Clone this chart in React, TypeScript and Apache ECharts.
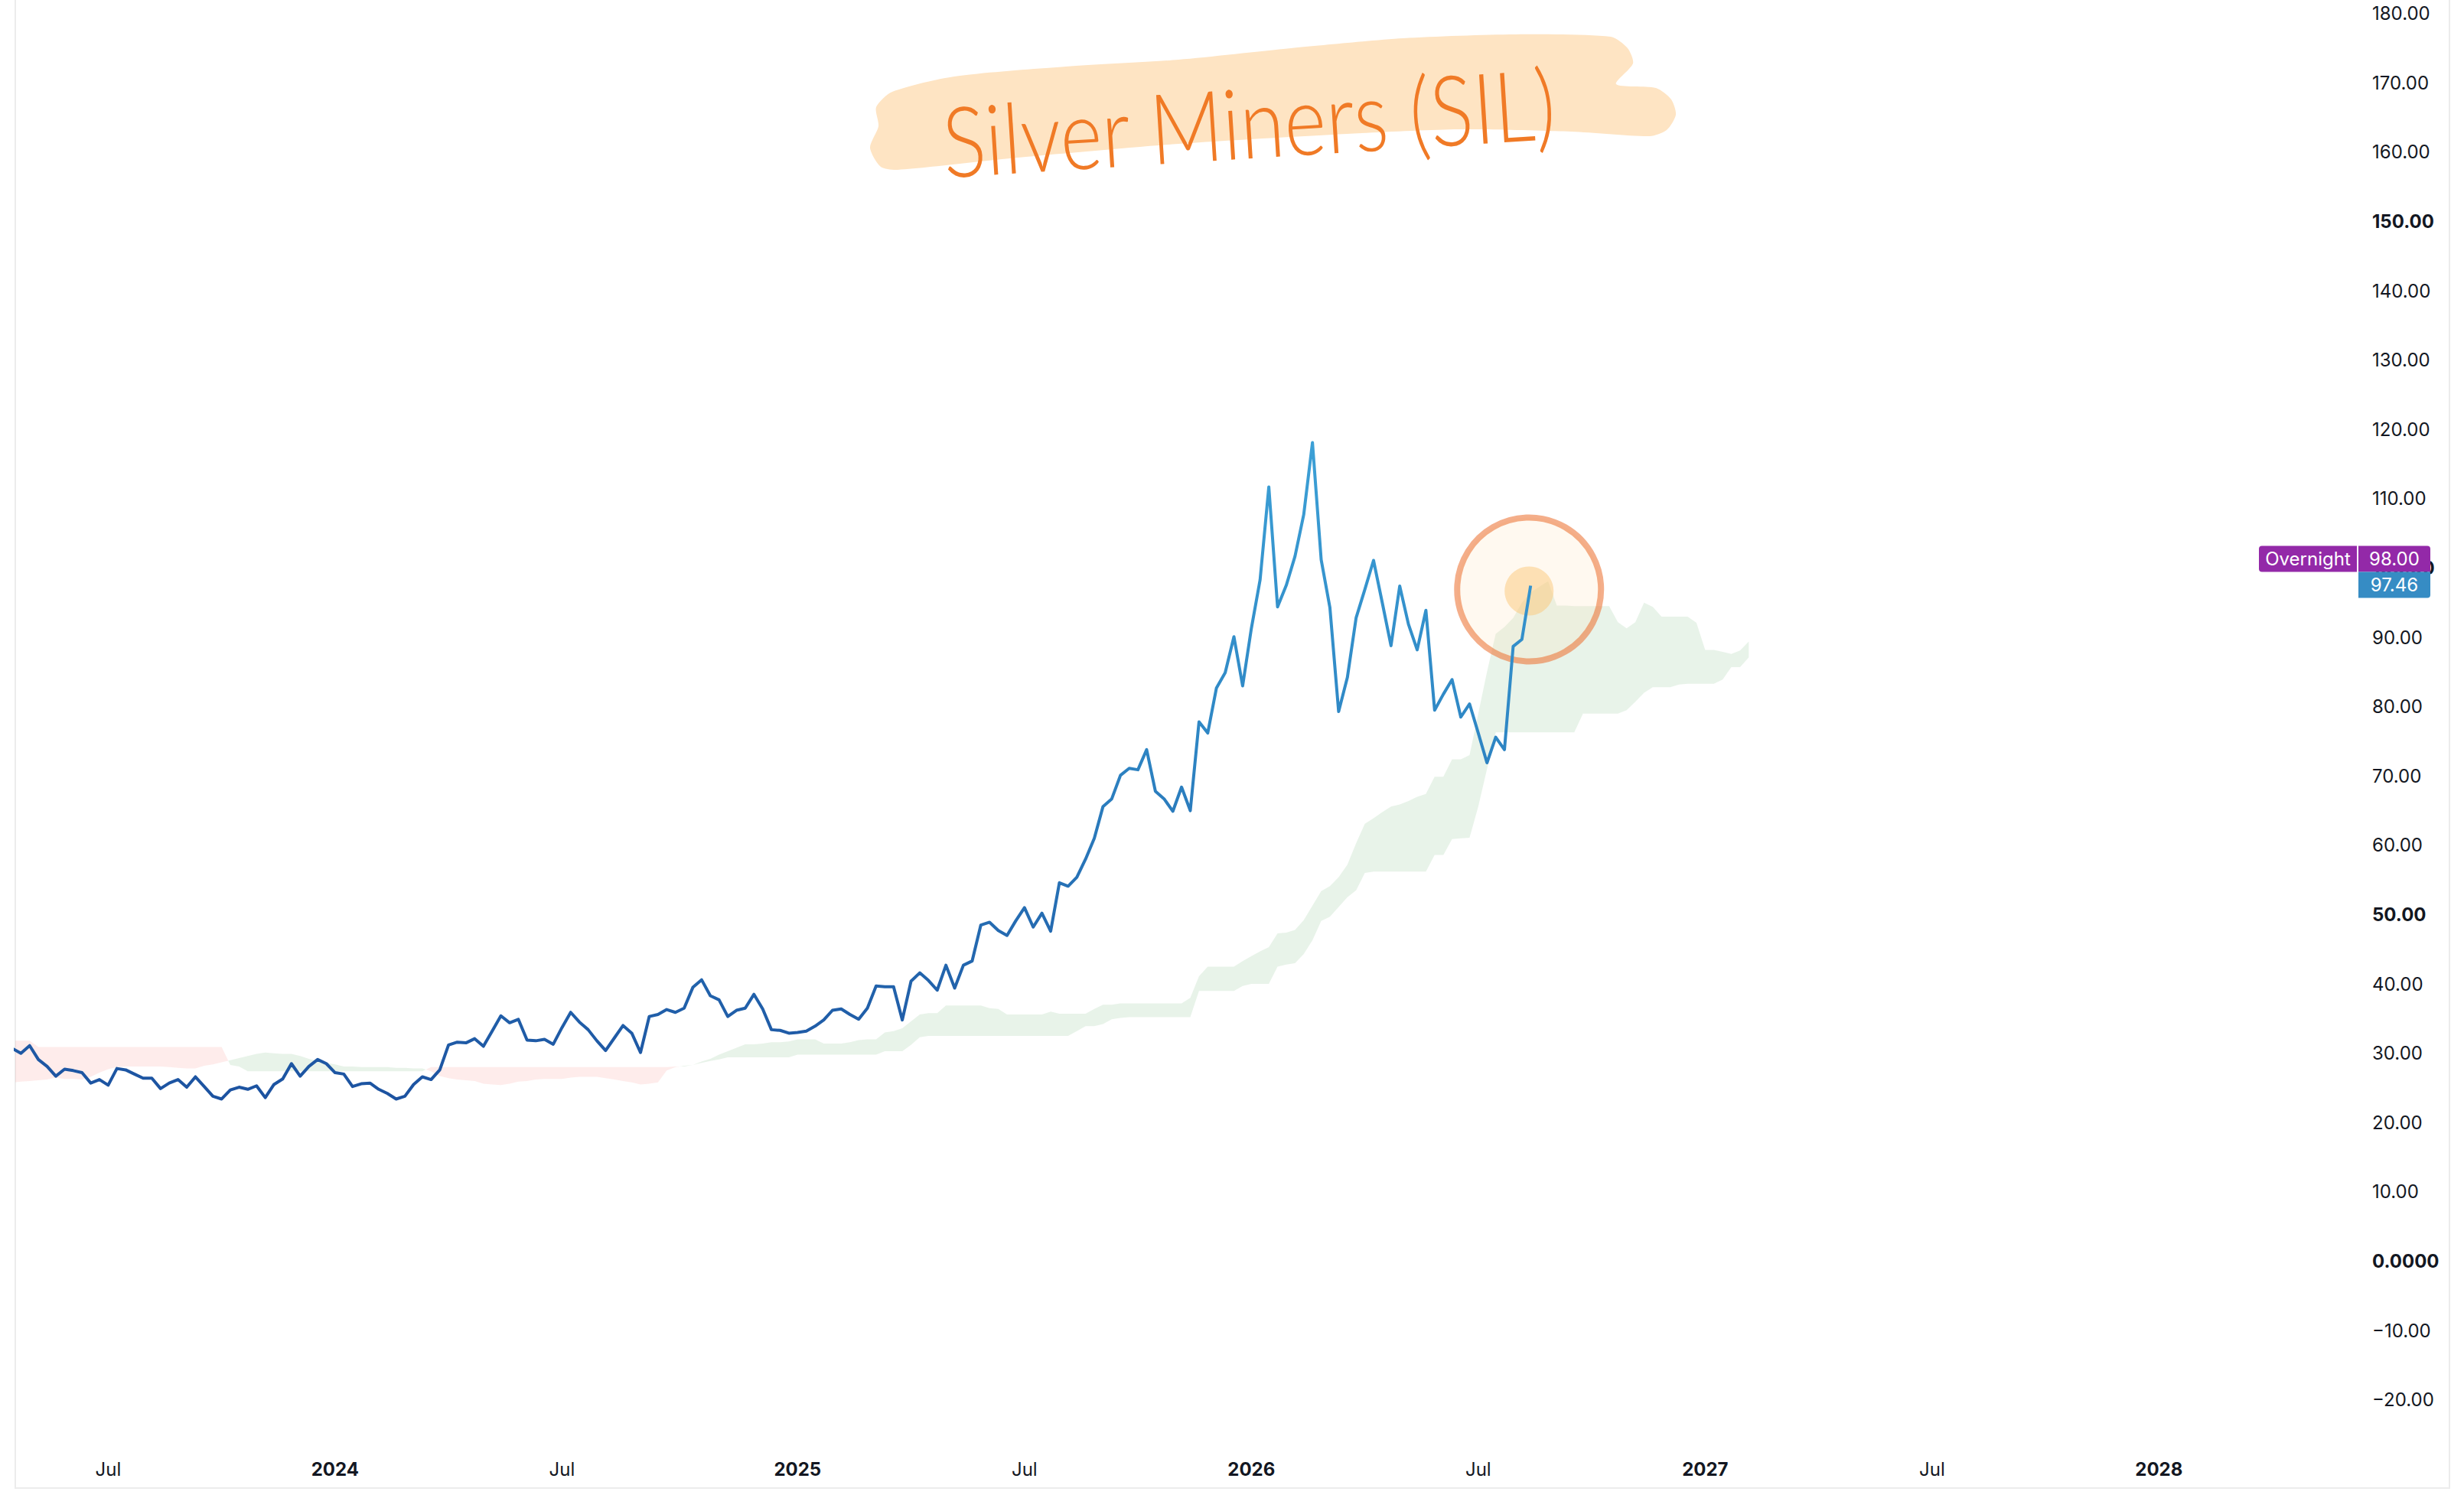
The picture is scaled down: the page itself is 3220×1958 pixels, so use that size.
import React, { useEffect, useRef } from 'react';
import * as echarts from 'echarts';

// ---- data ----
const firstWeek = '2023-04-17'; // weekly bars (Mondays)
const price = [
  30.7,
  30.0, 31.1, 29.1, 28.1, 26.7, 27.7, 27.5, 27.2, 25.7, 26.2,
  25.4, 27.8, 27.6, 27.0, 26.4, 26.4, 24.9, 25.7, 26.2, 25.1,
  26.6, 25.2, 23.8, 23.4, 24.7, 25.1, 24.8, 25.3, 23.6, 25.5,
  26.3, 28.5, 26.7, 28.1, 29.1, 28.5, 27.2, 27.0, 25.2, 25.6,
  25.7, 24.8, 24.2, 23.4, 23.8, 25.5, 26.6, 26.2, 27.6, 31.2,
  31.6, 31.5, 32.1, 31.0, 33.2, 35.4, 34.4, 34.9, 31.9, 31.8,
  32.0, 31.3, 33.7, 35.9, 34.5, 33.4, 31.8, 30.4, 32.2, 34.0,
  32.9, 30.1, 35.3, 35.6, 36.3, 35.9, 36.5, 39.5, 40.6, 38.3,
  37.7, 35.3, 36.2, 36.5, 38.5, 36.4, 33.4, 33.3, 32.9, 33.0,
  33.2, 33.9, 34.8, 36.2, 36.4, 35.6, 34.9, 36.5, 39.7, 39.6,
  39.6, 34.8, 40.4, 41.6, 40.5, 39.1, 42.7, 39.4, 42.7, 43.3,
  48.5, 48.9, 47.7, 47.0, 49.1, 51.0, 48.2, 50.2, 47.6, 54.6,
  54.1, 55.4, 58.0, 61.0, 65.6, 66.7, 70.1, 71.1, 70.9, 73.8,
  67.8, 66.7, 64.9, 68.4, 65.0, 77.8, 76.2, 82.7, 84.9, 90.1,
  83.0, 91.3, 98.3, 111.7, 94.4, 97.5, 101.7, 107.7, 118.1, 101.2,
  94.3, 79.3, 84.2, 92.8, 96.9, 101.1, 95.0, 88.8, 97.4, 91.9,
  88.2, 93.9, 79.5, 81.8, 83.9, 78.5, 80.4, 76.2, 71.9, 75.6,
  73.8, 88.7, 89.7, 97.46,
];
// Ichimoku cloud (displaced forward), same weekly start
const spanA = [
  25.8,
  25.9, 26.0, 26.1, 26.2, 26.5, 26.3, 26.3, 26.2, 26.6, 27.2,
  27.7, 28.0, 28.1, 28.1, 28.1, 28.1, 28.1, 28.0, 27.9, 27.8,
  27.8, 28.2, 28.4, 28.7, 29.0, 29.3, 29.6, 29.9, 30.1, 30.0,
  29.9, 29.9, 29.6, 29.2, 28.9, 28.6, 28.4, 28.1, 28.1, 28.0,
  28.0, 28.0, 28.0, 27.9, 27.9, 27.8, 27.8, 27.4, 26.7, 26.4,
  26.2, 26.1, 26.0, 25.6, 25.5, 25.4, 25.6, 25.9, 26.0, 26.2,
  26.3, 26.3, 26.3, 26.5, 26.6, 26.6, 26.6, 26.4, 26.2, 26.0,
  25.8, 25.5, 25.6, 25.8, 27.5, 28.0, 28.2, 28.3, 28.8, 29.2,
  29.8, 30.3, 30.8, 31.3, 31.3, 31.4, 31.6, 31.6, 31.7, 32.0,
  32.0, 32.0, 31.4, 31.4, 31.4, 31.6, 31.9, 32.0, 32.0, 33.0,
  33.2, 33.6, 34.6, 35.6, 35.8, 35.8, 36.9, 36.9, 36.9, 36.9,
  36.9, 36.5, 36.4, 35.6, 35.6, 35.6, 35.6, 35.6, 36.0, 35.7,
  35.7, 35.7, 35.7, 36.4, 37.0, 37.0, 37.2, 37.2, 37.2, 37.2,
  37.2, 37.2, 37.2, 37.2, 38.0, 41.1, 42.5, 42.5, 42.5, 42.5,
  43.3, 44.0, 44.7, 45.3, 47.3, 47.4, 47.8, 49.2, 51.3, 53.4,
  54.1, 55.4, 57.2, 60.3, 63.1, 63.9, 64.8, 65.6, 65.9, 66.4,
  67.0, 67.4, 69.9, 69.9, 72.4, 72.4, 73.0, 79.0, 85.0, 90.5,
  91.5, 92.8, 95.0, 96.5, 97.3, 98.1, 94.6, 94.6, 94.5, 94.5,
  94.5, 94.5, 94.5, 92.2, 91.3, 92.2, 95.0, 94.4, 93.0, 93.0,
  93.0, 93.0, 92.1, 88.2, 88.2, 87.9, 87.6, 88.1, 89.4,
];
const spanB = [
  31.8,
  31.8, 31.8, 30.9, 30.9, 30.9, 30.9, 30.9, 30.9, 30.9, 30.9,
  30.9, 30.9, 30.9, 30.9, 30.9, 30.9, 30.9, 30.9, 30.9, 30.9,
  30.9, 30.9, 30.9, 30.9, 28.3, 28.1, 27.4, 27.4, 27.4, 27.4,
  27.4, 27.4, 27.4, 27.4, 27.4, 27.4, 27.4, 27.4, 27.4, 27.4,
  27.4, 27.4, 27.4, 27.4, 27.4, 27.4, 27.4, 28.0, 28.0, 28.0,
  28.0, 28.0, 28.0, 28.0, 28.0, 28.0, 28.0, 28.0, 28.0, 28.0,
  28.0, 28.0, 28.0, 28.0, 28.0, 28.0, 28.0, 28.0, 28.0, 28.0,
  28.0, 28.0, 28.0, 28.0, 28.0, 28.1, 28.1, 28.3, 28.6, 28.9,
  29.1, 29.4, 29.4, 29.4, 29.4, 29.4, 29.4, 29.4, 29.4, 29.8,
  29.8, 29.8, 29.8, 29.8, 29.8, 29.8, 29.8, 29.8, 29.8, 30.3,
  30.3, 30.3, 31.2, 32.3, 32.5, 32.5, 32.5, 32.5, 32.5, 32.5,
  32.5, 32.5, 32.5, 32.5, 32.5, 32.5, 32.5, 32.5, 32.5, 32.5,
  32.5, 33.2, 33.9, 33.9, 34.2, 34.9, 35.1, 35.2, 35.2, 35.2,
  35.2, 35.2, 35.2, 35.2, 35.2, 39.0, 39.0, 39.0, 39.0, 39.0,
  39.7, 40.0, 40.0, 40.0, 42.5, 42.8, 43.0, 44.3, 46.3, 49.1,
  49.7, 51.1, 52.5, 53.5, 56.0, 56.2, 56.2, 56.2, 56.2, 56.2,
  56.2, 56.2, 58.6, 58.6, 60.9, 61.0, 61.1, 65.6, 71.0, 76.3,
  76.3, 76.3, 76.3, 76.3, 76.3, 76.3, 76.3, 76.3, 76.3, 79.0,
  79.0, 79.0, 79.0, 79.0, 79.5, 80.7, 82.0, 82.8, 82.8, 82.8,
  83.2, 83.3, 83.3, 83.3, 83.3, 83.9, 85.7, 85.7, 87.1,
];
const overnightValue = 98.0;
const lastValue = 97.46;
const titleText = 'Silver Miners (SIL)';
const yTicks = [-20, -10, 0, 10, 20, 30, 40, 50, 60, 70, 80, 90, 100, 110, 120, 130, 140, 150, 160, 170, 180];
const yBoldTicks = [0, 50, 100, 150];
const xTickDates = ['2023-07-03', '2024-01-01', '2024-07-01', '2025-01-06', '2025-07-07', '2026-01-05', '2026-07-06', '2027-01-04', '2027-07-05', '2028-01-03'];
const xTickLabels = ['Jul', '2024', 'Jul', '2025', 'Jul', '2026', 'Jul', '2027', 'Jul', '2028'];
const xRange = ['2023-04-19T12:00:00Z', '2028-06-11T00:00:00Z'];
const yRange = [-27.21, 181.95];

const DAY = 86400000;
const ts = (s: string) => new Date(s.length === 10 ? s + 'T00:00:00Z' : s).getTime();
const weekTs = (k: number) => ts(firstWeek) + k * 7 * DAY;

export default function App() {
  const ref = useRef<HTMLDivElement>(null);
  useEffect(() => {
    const el = ref.current!;
    const chart = echarts.init(el, null, { renderer: 'svg' });
    const font = 'Inter, "Noto Sans", sans-serif';
    const priceData = price.map((v, k) => [weekTs(k), v]);
    const cloudTs = spanA.map((_, k) => weekTs(k));
    const xTickTs = xTickDates.map(ts);
    const fmtY = (v: number) => {
      if (v === 0) return '0.0000';
      const s = Math.abs(v).toFixed(2);
      return v < 0 ? '\u2212' + s : s;
    };
    const green = 'rgba(67,160,71,0.12)';
    const red = 'rgba(244,67,54,0.1)';

    chart.setOption({
      animation: false,
      backgroundColor: '#ffffff',
      grid: { left: 20, right: 138, top: 0, bottom: 63 },
      xAxis: {
        type: 'value',
        min: ts(xRange[0]),
        max: ts(xRange[1]),
        axisLine: { show: false },
        axisTick: { show: false },
        splitLine: { show: false },
        axisLabel: {
          customValues: xTickTs,
          margin: 13,
          fontSize: 24,
          fontFamily: font,
          color: '#131722',
          hideOverlap: false,
          formatter: (v: number) => {
            let best = 0;
            xTickTs.forEach((t, k) => { if (Math.abs(t - v) < Math.abs(xTickTs[best] - v)) best = k; });
            const lab = xTickLabels[best];
            return lab === 'Jul' ? lab : `{b|${lab}}`;
          },
          rich: { b: { fontWeight: 'bold', fontSize: 24, fontFamily: font, color: '#131722' } },
        },
      },
      yAxis: {
        type: 'value',
        position: 'right',
        min: yRange[0],
        max: yRange[1],
        axisLine: { show: false },
        axisTick: { show: false },
        splitLine: { show: false },
        axisLabel: {
          customValues: yTicks,
          margin: 18,
          align: 'left',
          fontSize: 24,
          fontFamily: font,
          color: '#131722',
          formatter: (v: number) => {
            const s = fmtY(v);
            return yBoldTicks.indexOf(v) >= 0 ? `{b|${s}}` : s;
          },
          rich: { b: { fontWeight: 'bold', fontSize: 24, fontFamily: font, color: '#131722' } },
        },
      },
      series: [
        {
          type: 'custom',
          name: 'cloud',
          clip: true,
          z: 1,
          silent: true,
          data: [[cloudTs[0], spanA[0]]],
          encode: { x: 0, y: 1 },
          renderItem: (_params: any, api: any) => {
            const pts = cloudTs.map((t, k) => ({
              a: api.coord([t, spanA[k]]),
              b: api.coord([t, spanB[k]]),
              d: spanA[k] - spanB[k],
            }));
            const polys: { s: number; p: number[][] }[] = [];
            let sign = pts[0].d >= 0 ? 1 : -1;
            let top: number[][] = [pts[0].a];
            let bot: number[][] = [pts[0].b];
            for (let k = 1; k < pts.length; k++) {
              const q = pts[k - 1];
              const p = pts[k];
              const s = p.d > 0 ? 1 : p.d < 0 ? -1 : sign;
              if (s !== sign) {
                const f = q.d / (q.d - p.d);
                const c = [q.a[0] + f * (p.a[0] - q.a[0]), q.a[1] + f * (p.a[1] - q.a[1])];
                top.push(c);
                bot.push(c);
                polys.push({ s: sign, p: top.concat(bot.slice().reverse()) });
                top = [c];
                bot = [c];
                sign = s;
              }
              top.push(p.a);
              bot.push(p.b);
            }
            polys.push({ s: sign, p: top.concat(bot.slice().reverse()) });
            return {
              type: 'group',
              children: polys.map((pg) => ({
                type: 'polygon',
                shape: { points: pg.p },
                style: { fill: pg.s > 0 ? green : red },
              })),
            };
          },
        },
        {
          type: 'line',
          name: 'SIL',
          data: priceData,
          showSymbol: false,
          z: 3,
          clip: true,
          lineStyle: {
            width: 4,
            join: 'round',
            color: {
              type: 'linear', x: 0, y: 0, x2: 0, y2: 1,
              colorStops: [
                { offset: 0, color: '#3ca0d6' },
                { offset: 0.45, color: '#2e86c4' },
                { offset: 1, color: '#1c52a0' },
              ],
            },
          },
        },
      ],
    });

    const last = chart.convertToPixel({ gridIndex: 0 }, [weekTs(price.length - 1), lastValue]) as number[];
    const cx = last[0] - 2;
    const cy = last[1] + 5;
    const by = last[1];
    const gridRight = 3220 - 138;

    const highlight = [
      [1166, 120], [1247, 100], [1393, 87], [1540, 78], [1687, 63], [1834, 50], [1980, 45],
      [2105, 48], [2127, 63], [2134, 83], [2112, 110], [2164, 115], [2184, 130], [2190, 150],
      [2178, 170], [2156, 178], [2054, 172], [1907, 169], [1760, 175], [1540, 188], [1320, 207],
      [1173, 222], [1151, 218], [1137, 193], [1148, 165], [1145, 140],
    ];

    chart.setOption({
      graphic: [
        {
          type: 'rect', id: 'frame', z: 0, silent: true,
          shape: { x: 20, y: -4, width: 3181, height: 1949 },
          style: { fill: 'none', stroke: '#ececec', lineWidth: 2 },
        },
        {
          type: 'polygon', id: 'hl', z: 10, silent: true,
          shape: { points: highlight, smooth: 0.25 },
          style: { fill: '#fee4c3' },
        },
        {
          type: 'text', id: 'title', z: 11, silent: true,
          x: 1632, y: 158, rotation: 0.063, scaleX: 0.82,
          style: {
            text: titleText, fontSize: 128, fontFamily: 'Lato, "Noto Sans", sans-serif', fontWeight: 300,
            fill: '#f07a26', align: 'center', verticalAlign: 'middle',
          },
        },
        {
          type: 'circle', id: 'ring', z: 2, silent: true,
          shape: { cx, cy, r: 94 },
          style: { fill: 'rgba(255,225,180,0.2)', stroke: 'rgba(236,120,60,0.6)', lineWidth: 8 },
        },
        {
          type: 'circle', id: 'dot', z: 2, silent: true,
          shape: { cx, cy: cy + 2, r: 32 },
          style: { fill: 'rgba(252,200,120,0.5)' },
        },
        {
          type: 'rect', id: 'ovLabel', z: 20, silent: true,
          shape: { x: gridRight - 130, y: by - 52, width: 128, height: 34, r: [4, 0, 0, 4] },
          style: { fill: '#9329a8' },
        },
        {
          type: 'text', id: 'ovText', z: 21, silent: true,
          x: gridRight - 66, y: by - 35,
          style: { text: 'Overnight', fontSize: 24, fontFamily: font, fill: '#ffffff', align: 'center', verticalAlign: 'middle' },
        },
        {
          type: 'rect', id: 'ovVal', z: 20, silent: true,
          shape: { x: gridRight, y: by - 52, width: 94, height: 34, r: [0, 4, 0, 0] },
          style: { fill: '#9329a8' },
        },
        {
          type: 'text', id: 'ovValText', z: 21, silent: true,
          x: gridRight + 47, y: by - 35,
          style: { text: overnightValue.toFixed(2), fontSize: 24, fontFamily: font, fill: '#ffffff', align: 'center', verticalAlign: 'middle' },
        },
        {
          type: 'rect', id: 'lastVal', z: 20, silent: true,
          shape: { x: gridRight, y: by - 18, width: 94, height: 34, r: [0, 0, 4, 0] },
          style: { fill: '#368cc4' },
        },
        {
          type: 'text', id: 'lastValText', z: 21, silent: true,
          x: gridRight + 47, y: by - 1,
          style: { text: lastValue.toFixed(2), fontSize: 24, fontFamily: font, fill: '#ffffff', align: 'center', verticalAlign: 'middle' },
        },
      ],
    });

    return () => chart.dispose();
  }, []);
  return (
    <div
      ref={ref}
      style={{ position: 'fixed', left: 0, top: 0, width: 3220, height: 1958, background: '#ffffff' }}
    />
  );
}
